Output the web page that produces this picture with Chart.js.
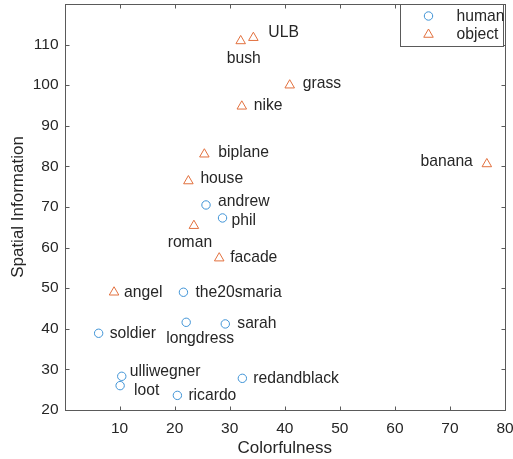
<!DOCTYPE html>
<html>
<head>
<meta charset="utf-8">
<script src="https://cdn.jsdelivr.net/npm/chart.js@4/dist/chart.umd.min.js"></script>
<style>
  html, body { margin: 0; padding: 0; background: #ffffff; }
  #wrap { width: 513px; height: 459px; }
</style>
</head>
<body>
<div id="wrap"><canvas id="c" width="513" height="459"></canvas></div>
<script>
// ---- data ----
const humanNames = ['andrew','phil','the20smaria','longdress','sarah','soldier','ulliwegner','loot','ricardo','redandblack'];
const humanX = [25.7, 28.7, 21.6, 22.1, 29.2, 6.2, 10.4, 10.1, 20.5, 32.3];
const humanY = [70.5, 67.3, 49.0, 41.6, 41.2, 38.9, 28.3, 26.0, 23.6, 27.8];

const objectNames = ['bush','ULB','grass','nike','biplane','banana','house','roman','facade','angel'];
const objectX = [32.0, 34.3, 40.9, 32.2, 25.4, 76.7, 22.5, 23.5, 28.1, 9.0];
const objectY = [110.9, 111.7, 100.0, 94.8, 83.0, 80.6, 76.4, 65.4, 57.4, 49.0];

const xTicks = [10, 20, 30, 40, 50, 60, 70, 80];
const yTicks = [20, 30, 40, 50, 60, 70, 80, 90, 100, 110];
const seriesNames = ['human', 'object'];
const xTitle = 'Colorfulness';
const yTitle = 'Spatial Information';

// ---- label placement (style only) ----
const labelPlacement = {
  ULB: [15, -5, 'left'], bush: [3, 18, 'center'], grass: [13, -2, 'left'], nike: [12, -1, 'left'],
  biplane: [14, -2, 'left'], banana: [-14, -2, 'right'], house: [12, -2, 'left'], andrew: [12, -3, 'left'],
  phil: [9, 3, 'left'], roman: [-4, 17, 'center'], facade: [11, 0, 'left'], angel: [10, 0, 'left'],
  the20smaria: [12, 0, 'left'], sarah: [12, 0, 'left'], soldier: [11, 0, 'left'], longdress: [14, 16, 'center'],
  ulliwegner: [8, -5, 'left'], loot: [14, 5, 'left'], ricardo: [11, 0, 'left'], redandblack: [11, 0, 'left']
};

const FONT = "'Liberation Sans', Arial, Helvetica, sans-serif";
const TEXT = '#262626';
const AXIS = '#5a5a5a';
const BLUE = '#3f93d6';
const ORANGE = '#e2703e';

const toPts = (xs, ys) => xs.map((x, i) => ({ x: x, y: ys[i] }));

const boxPlugin = {
  id: 'boxTicks',
  afterDatasetsDraw(chart) {
    const { ctx, chartArea: a, scales } = chart;
    ctx.save();
    ctx.strokeStyle = AXIS;
    ctx.lineWidth = 1;
    const L = Math.round(a.left) + 0.5, R = Math.round(a.right) + 0.5;
    const T = Math.round(a.top) + 0.5, B = Math.round(a.bottom) + 0.5;
    ctx.strokeRect(L, T, R - L, B - T);
    ctx.beginPath();
    const tl = 4;
    xTicks.forEach(v => {
      const px = Math.round(scales.x.getPixelForValue(v)) + 0.5;
      ctx.moveTo(px, B); ctx.lineTo(px, B - tl);
      ctx.moveTo(px, T); ctx.lineTo(px, T + tl);
    });
    yTicks.forEach(v => {
      const py = Math.round(scales.y.getPixelForValue(v)) + 0.5;
      ctx.moveTo(L, py); ctx.lineTo(L + tl, py);
      ctx.moveTo(R, py); ctx.lineTo(R - tl, py);
    });
    ctx.stroke();

    // point labels
    ctx.fillStyle = TEXT;
    ctx.font = '15.7px ' + FONT;
    ctx.textBaseline = 'middle';
    chart.data.datasets.forEach(ds => {
      ds.data.forEach((p, i) => {
        const name = ds.names[i];
        const pl = labelPlacement[name] || [10, 0, 'left'];
        const px = scales.x.getPixelForValue(p.x);
        const py = scales.y.getPixelForValue(p.y);
        ctx.textAlign = pl[2];
        ctx.fillText(name, px + pl[0], py + pl[1]);
      });
    });

    // legend
    const lx0 = Math.round(a.right) - 104.5, ly0 = Math.round(a.top) + 0.5;
    ctx.fillStyle = '#ffffff';
    ctx.fillRect(lx0, ly0, 103, 42);
    ctx.strokeStyle = AXIS;
    ctx.strokeRect(lx0, ly0, 103, 42);
    ctx.lineWidth = 1;
    // circle
    ctx.strokeStyle = BLUE;
    ctx.beginPath();
    ctx.arc(lx0 + 28, ly0 + 11.5, 4.2, 0, Math.PI * 2);
    ctx.stroke();
    // triangle
    ctx.strokeStyle = ORANGE;
    const tx = lx0 + 28, ty = ly0 + 30, r = 5.5;
    ctx.beginPath();
    ctx.moveTo(tx, ty - r);
    ctx.lineTo(tx + r * Math.sin(2 * Math.PI / 3), ty - r * Math.cos(2 * Math.PI / 3));
    ctx.lineTo(tx + r * Math.sin(4 * Math.PI / 3), ty - r * Math.cos(4 * Math.PI / 3));
    ctx.closePath();
    ctx.stroke();
    ctx.fillStyle = TEXT;
    ctx.textAlign = 'left';
    ctx.font = '15.7px ' + FONT;
    ctx.fillText(seriesNames[0], lx0 + 56, ly0 + 12);
    ctx.fillText(seriesNames[1], lx0 + 56, ly0 + 30);
    ctx.restore();
  }
};

new Chart(document.getElementById('c'), {
  type: 'scatter',
  data: {
    datasets: [
      { label: seriesNames[0], names: humanNames, data: toPts(humanX, humanY),
        pointStyle: 'circle', pointRadius: 4.2, pointHoverRadius: 4.2,
        borderColor: BLUE, backgroundColor: 'rgba(0,0,0,0)', borderWidth: 1, pointBorderWidth: 1 },
      { label: seriesNames[1], names: objectNames, data: toPts(objectX, objectY),
        pointStyle: 'triangle', pointRadius: 5.5, pointHoverRadius: 5.5,
        borderColor: ORANGE, backgroundColor: 'rgba(0,0,0,0)', borderWidth: 1, pointBorderWidth: 1 }
    ]
  },
  options: {
    responsive: false,
    animation: false,
    devicePixelRatio: 1,
    layout: { autoPadding: false, padding: { left: 0, right: 8, top: 4, bottom: 0 } },
    plugins: { legend: { display: false }, tooltip: { enabled: false } },
    events: [],
    scales: {
      x: {
        type: 'linear', min: 0, max: 80,
        afterBuildTicks: s => { s.ticks = xTicks.map(v => ({ value: v })); },
        afterFit: s => { s.height = 49; s.paddingLeft = 0; s.paddingRight = 0; },
        grid: { display: false, drawTicks: false },
        border: { display: false },
        ticks: { color: TEXT, font: { family: FONT, size: 15.5 }, padding: 9, maxRotation: 0 },
        title: { display: true, text: xTitle, color: TEXT, font: { family: FONT, size: 17 }, padding: { top: 4, bottom: 0 } }
      },
      y: {
        type: 'linear', min: 20, max: 120,
        afterBuildTicks: s => { s.ticks = yTicks.map(v => ({ value: v })); },
        afterFit: s => { s.width = 64.5; s.paddingTop = 0; s.paddingBottom = 0; },
        grid: { display: false, drawTicks: false },
        border: { display: false },
        ticks: { color: TEXT, font: { family: FONT, size: 15.5 }, padding: 6 },
        title: { display: true, text: yTitle, color: TEXT, font: { family: FONT, size: 17 }, padding: { top: 8, bottom: 0 } }
      }
    }
  },
  plugins: [boxPlugin]
});
</script>
</body>
</html>
